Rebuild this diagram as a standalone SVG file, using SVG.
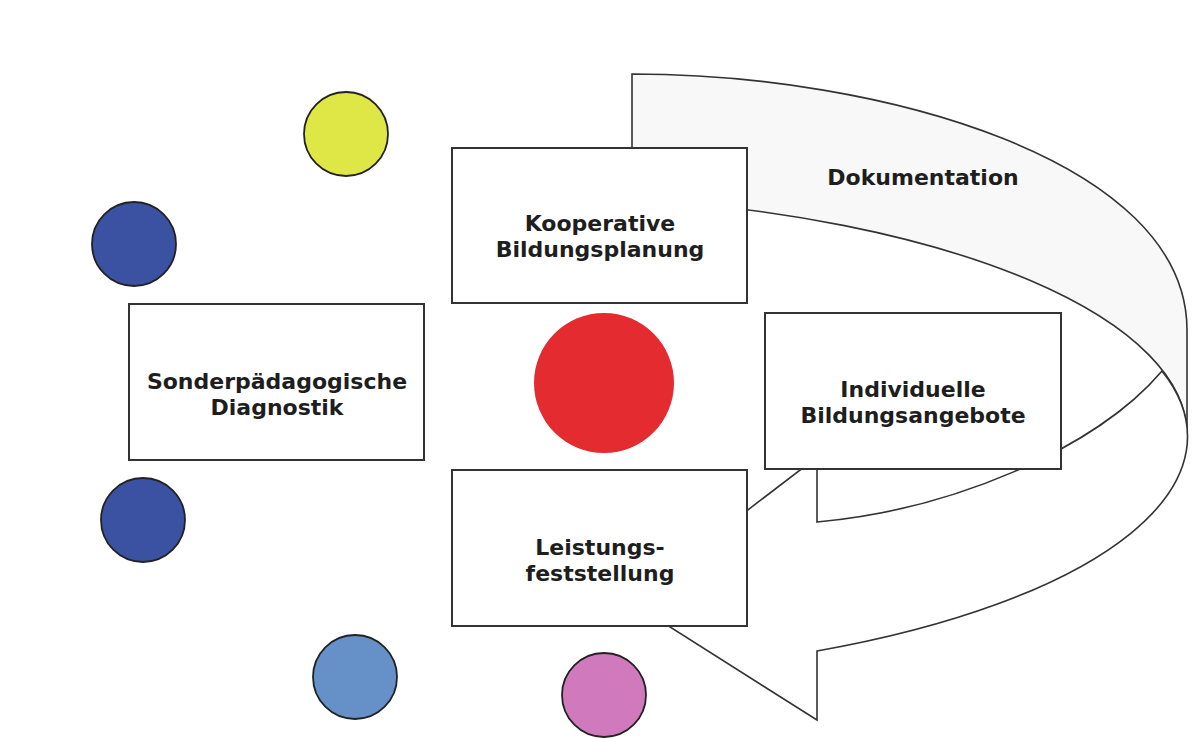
<svg xmlns="http://www.w3.org/2000/svg" width="1204" height="739" viewBox="0 0 1204 739">
<style>
.box{fill:#ffffff;stroke:#333333;stroke-width:2}
.dot{stroke:#222222;stroke-width:1.8}
.band{stroke:#333333;stroke-width:1.6;stroke-linejoin:miter}
.lbl{font-family:"DejaVu Sans",Verdana,sans-serif;font-weight:bold;font-size:22px;fill:#1e1e1e;text-anchor:middle}
</style>
<rect width="1204" height="739" fill="#ffffff"/>
<g id="connectors">
<g id="dokumentation-arrow">
<path class="band" fill="#f8f8f8" d="M632,74 C880,74 1187,160 1187,330 L1187,435 A664,239 0 0 0 632,199 Z"/>
<path class="band" fill="#ffffff" d="M1162,371 A664,239 0 0 1 817,651 L817,720 L629,601 L817,457 L817,522 C950,510 1095,450 1162,371 Z"/>
<text class="lbl" x="923" y="185">Dokumentation</text>
</g>
</g>
<g id="circle-yellow"><circle class="dot" cx="346" cy="134" r="42" fill="#dfe746"/></g>
<g id="circle-blue-1"><circle class="dot" cx="134" cy="244" r="42" fill="#3b52a3"/></g>
<g id="circle-blue-2"><circle class="dot" cx="143" cy="520" r="42" fill="#3b52a3"/></g>
<g id="circle-lightblue"><circle class="dot" cx="355" cy="677" r="42" fill="#6690c8"/></g>
<g id="circle-pink"><circle class="dot" cx="604" cy="695" r="42" fill="#d07abd"/></g>
<g id="circle-red"><circle cx="604" cy="383" r="70" fill="#e32b30"/></g>
<g id="node-diagnostik">
<rect class="box" x="129" y="304" width="295" height="156"/>
<text class="lbl" x="277" y="389">Sonderpädagogische</text>
<text class="lbl" x="277" y="415">Diagnostik</text>
</g>
<g id="node-bildungsplanung">
<rect class="box" x="452" y="148" width="295" height="155"/>
<text class="lbl" x="600" y="231">Kooperative</text>
<text class="lbl" x="600" y="257">Bildungsplanung</text>
</g>
<g id="node-bildungsangebote">
<rect class="box" x="765" y="313" width="296" height="156"/>
<text class="lbl" x="913" y="397">Individuelle</text>
<text class="lbl" x="913" y="423">Bildungsangebote</text>
</g>
<g id="node-leistungsfeststellung">
<rect class="box" x="452" y="470" width="295" height="156"/>
<text class="lbl" x="600" y="555">Leistungs-</text>
<text class="lbl" x="600" y="581">feststellung</text>
</g>
</svg>
